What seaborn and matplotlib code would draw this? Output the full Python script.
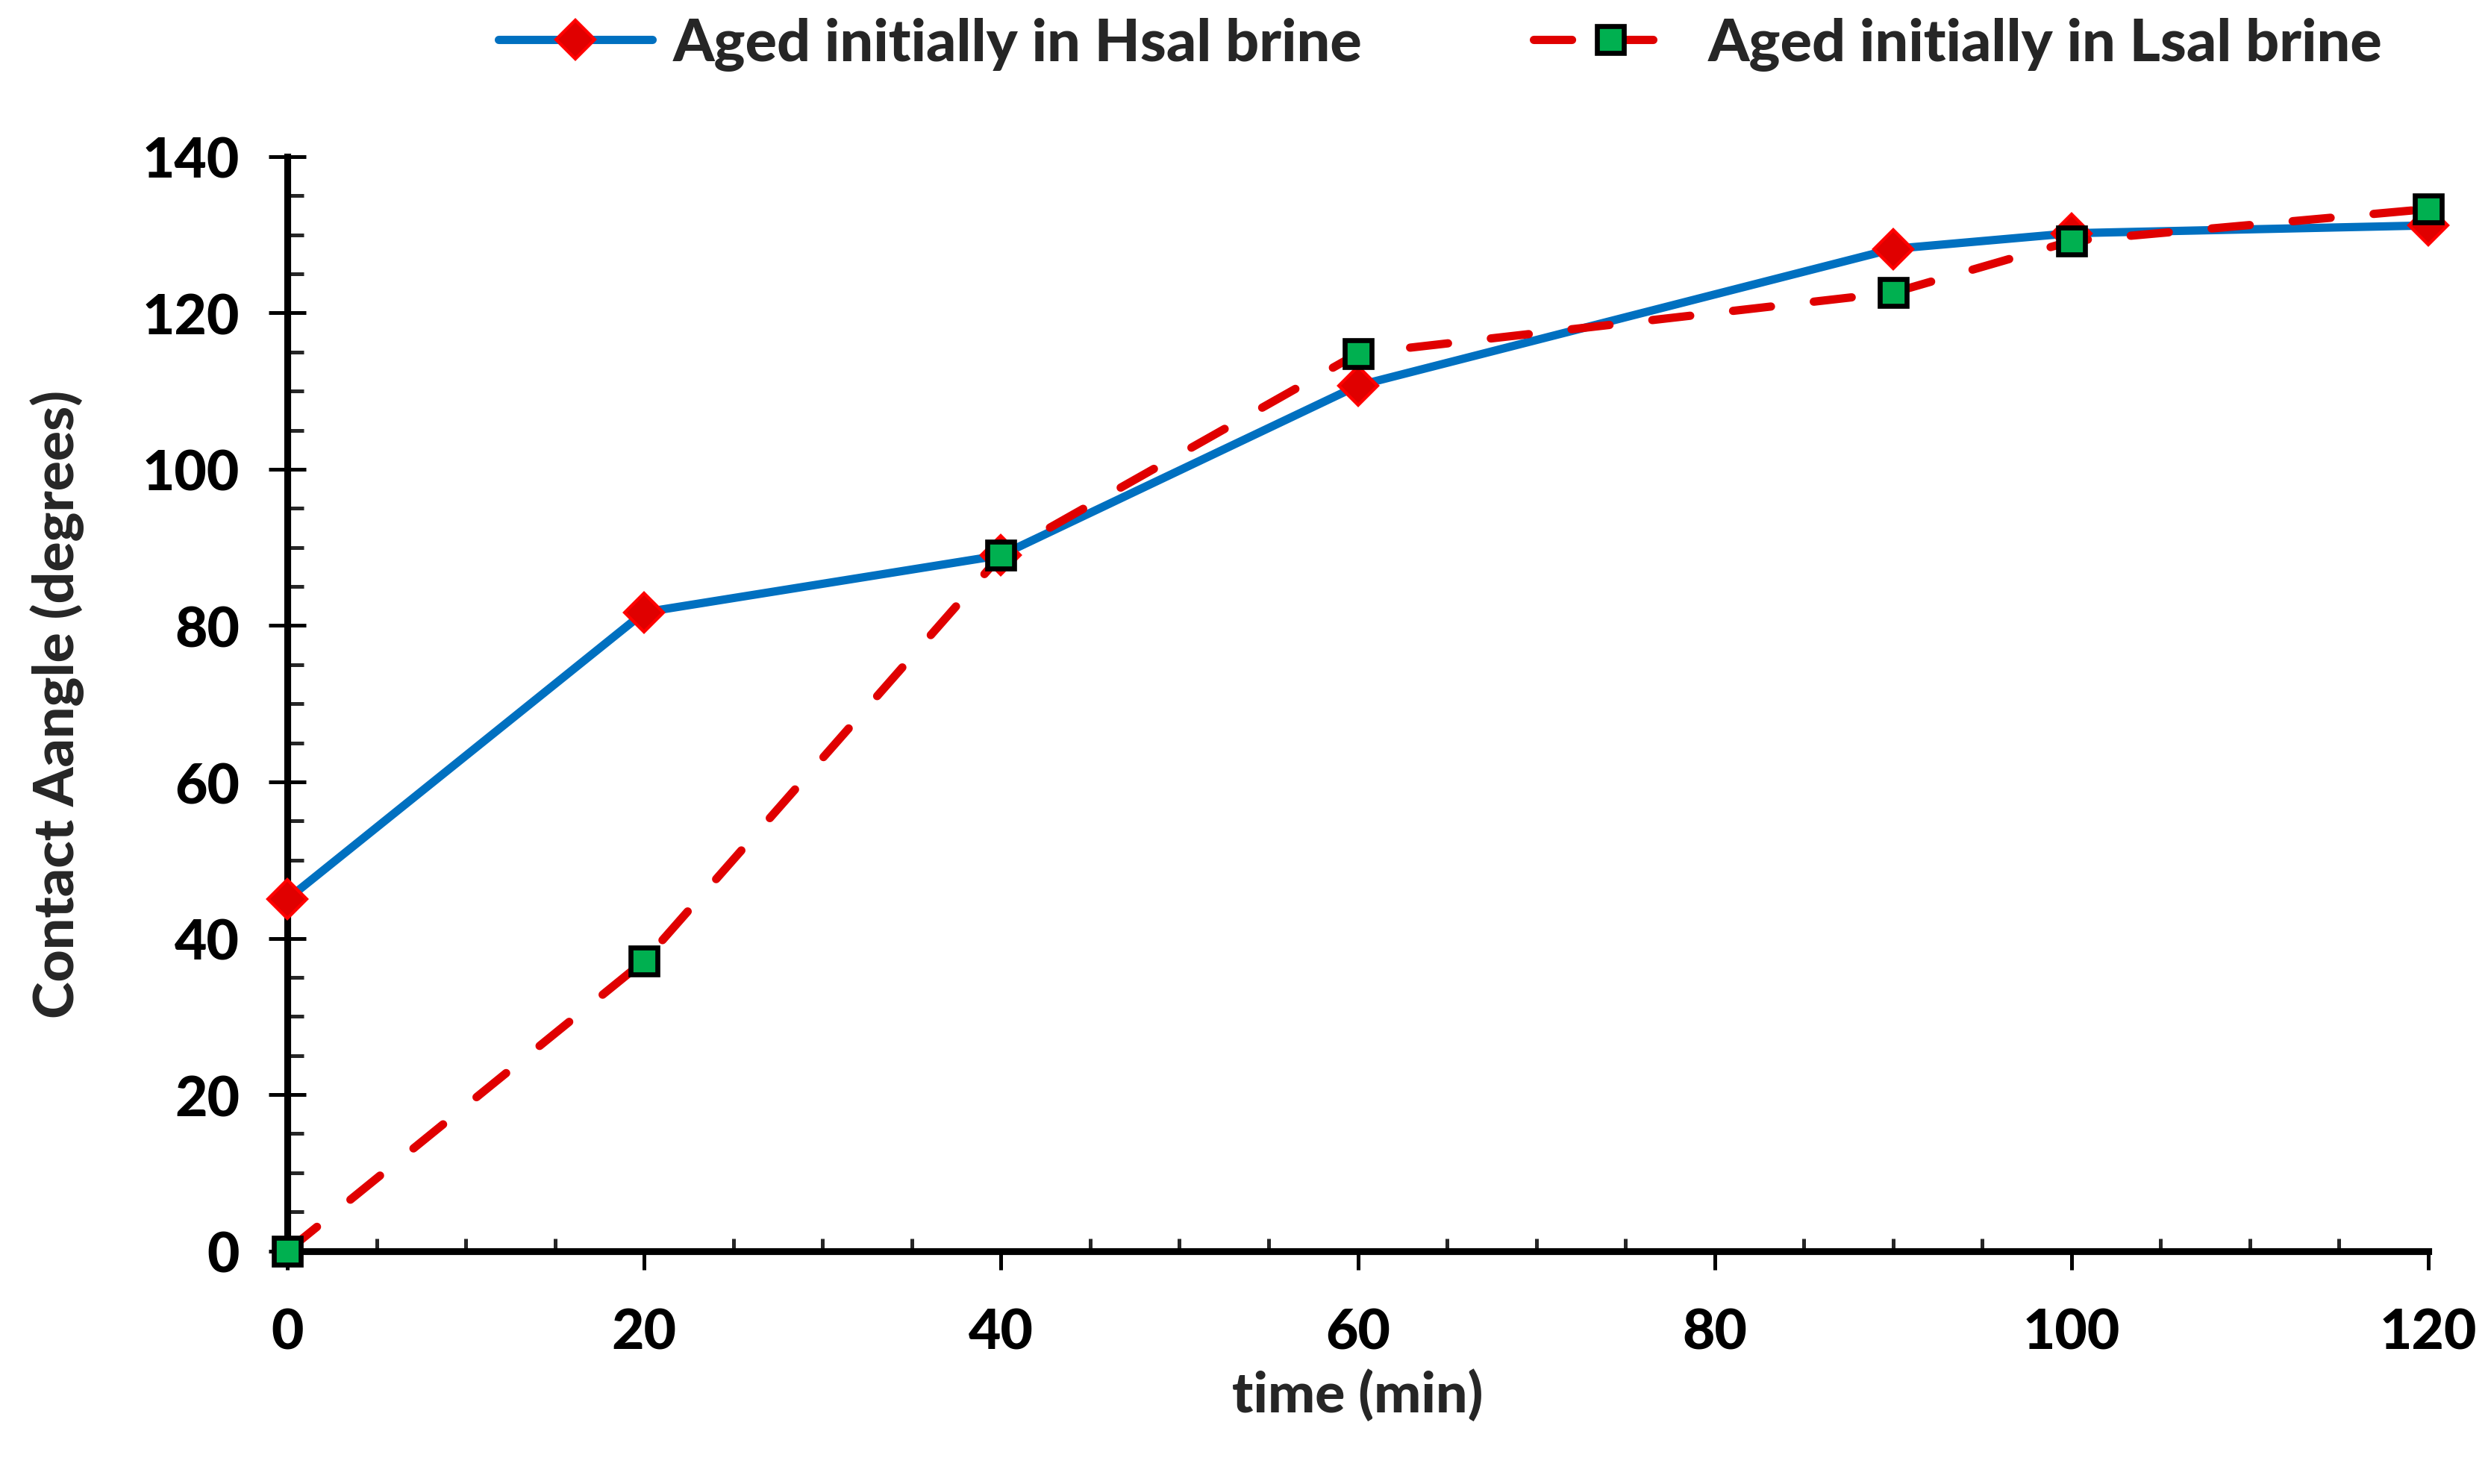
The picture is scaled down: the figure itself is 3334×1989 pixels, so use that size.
import numpy as np
import pandas as pd
import matplotlib
matplotlib.use("Agg")
import matplotlib.pyplot as plt
import seaborn as sns
from matplotlib.ticker import MultipleLocator


# Data
time_min = [0, 20, 40, 60, 90, 100, 120]
hsal_angle = [45.0, 81.7, 89.0, 110.7, 128.2, 130.2, 131.2]
lsal_angle = [0.0, 37.1, 89.0, 114.8, 122.6, 129.2, 133.3]

hsal_label = "Aged initially in Hsal brine"
lsal_label = "Aged initially in Lsal brine"

FS = 27
WT = 900


def make_chart():
    sns.set_style("white")
    plt.rcParams["font.family"] = ["Lato", "DejaVu Sans"]
    plt.rcParams["font.weight"] = WT

    fig = plt.figure(figsize=(16.67, 9.95), dpi=200)
    ax = fig.add_axes([0.1155, 0.157, 0.8605, 0.737])

    df_h = pd.DataFrame({"time": time_min, "angle": hsal_angle})
    df_l = pd.DataFrame({"time": time_min, "angle": lsal_angle})

    sns.lineplot(
        data=df_h, x="time", y="angle", ax=ax,
        color="#0070C0", linewidth=4.0,
        marker="D", markersize=13, markerfacecolor="#E00000",
        markeredgecolor="#FF0000", markeredgewidth=1.5,
        label=hsal_label, clip_on=False, zorder=3,
    )
    sns.lineplot(
        data=df_l, x="time", y="angle", ax=ax,
        color="#E00000", linewidth=4.0,
        linestyle=(0, (4.6, 5.2)), dash_capstyle="round",
        marker="s", markersize=13, markerfacecolor="#00B050",
        markeredgecolor="black", markeredgewidth=2.4,
        label=lsal_label, clip_on=False, zorder=4,
    )

    ax.set_xlim(0, 120)
    ax.set_ylim(0, 140)
    ax.xaxis.set_major_locator(MultipleLocator(20))
    ax.xaxis.set_minor_locator(MultipleLocator(5))
    ax.yaxis.set_major_locator(MultipleLocator(20))
    ax.yaxis.set_minor_locator(MultipleLocator(5))

    for side in ["top", "right"]:
        ax.spines[side].set_visible(False)
    for side in ["left", "bottom"]:
        ax.spines[side].set_linewidth(3.3)
        ax.spines[side].set_color("black")

    ax.tick_params(axis="x", which="major", direction="out", length=9,
                   width=1.8, pad=18, labelsize=FS, colors="black")
    ax.tick_params(axis="x", which="minor", direction="in", length=6,
                   width=1.8)
    ax.tick_params(axis="y", which="major", direction="inout", length=18,
                   width=1.8, pad=14, labelsize=FS, colors="black")
    ax.tick_params(axis="y", which="minor", direction="in", length=8,
                   width=1.8)
    ax.xaxis.set_ticks_position("bottom")
    ax.yaxis.set_ticks_position("left")
    for lab in ax.get_xticklabels() + ax.get_yticklabels():
        lab.set_fontweight(WT)

    ax.set_xlabel("time (min)", fontsize=FS, fontweight=WT, labelpad=5)
    ax.set_ylabel("Contact Aangle (degrees)", fontsize=FS, fontweight=WT,
                  labelpad=28)

    ax.get_legend().remove()
    handles, labels = ax.get_legend_handles_labels()
    fig.legend(
        handles, labels,
        loc="center", bbox_to_anchor=(0.579, 0.97), ncol=2,
        frameon=False, handlelength=2.6, columnspacing=2.9,
        handletextpad=0.35, prop={"weight": WT, "size": 28.5},
    )

    fig.savefig("out.png", dpi=200)
    plt.close(fig)


if __name__ == "__main__":
    make_chart()
